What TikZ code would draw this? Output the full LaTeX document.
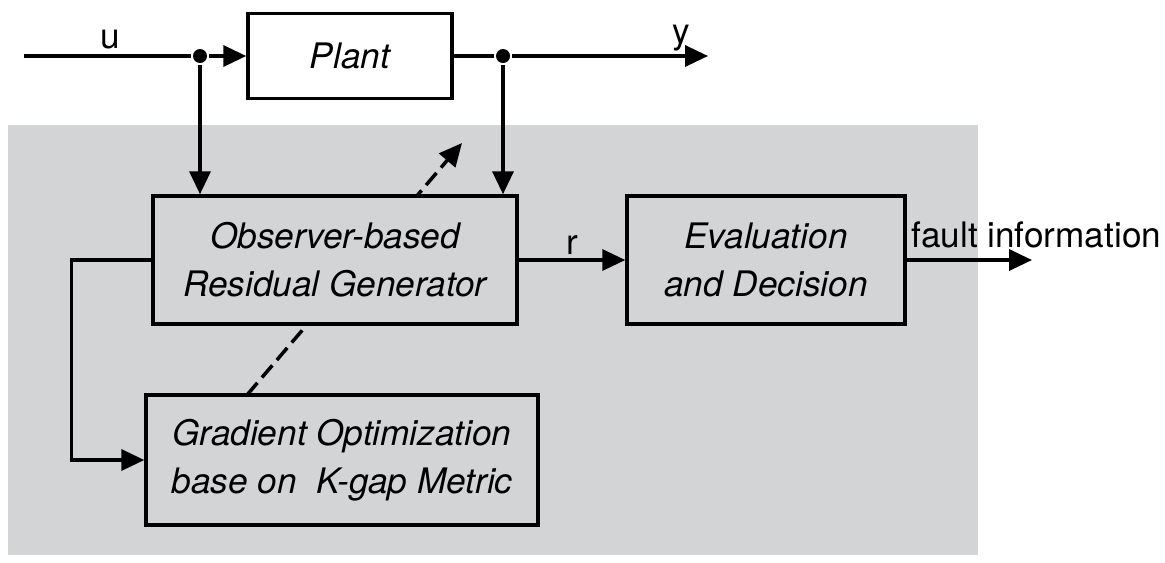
\documentclass[tikz,border=0pt]{standalone}
\usepackage{fontspec}
\setmainfont{TeX Gyre Heros}
\usetikzlibrary{arrows.meta}
\definecolor{panelgray}{RGB}{211,212,214}
\begin{document}
\begin{tikzpicture}[x=0.02cm,y=-0.02cm,line width=2pt,font=\fontsize{20}{27.5}\selectfont,
		blk/.style={draw,line width=2pt,align=center,inner sep=0pt,font=\fontsize{20}{27.5}\selectfont\itshape},
		sig/.style={-{Triangle[length=0.46cm,width=0.42cm]}},
		dot/.style={circle,fill=black,inner sep=0pt,minimum size=0.28cm}]
			\useasboundingbox (0,0) rectangle (1165,562);
			\fill[panelgray] (8,125) rectangle (978,555);
			% tuning arrow, runs behind the generator box
			\coordinate (tunefrom) at (247,395);
			\coordinate (tuneto) at (462,143);
			\draw[sig,dash pattern=on 0.32cm off 0.14cm] (tunefrom) -- (tuneto);
			\node[blk,minimum width=4.08cm,minimum height=1.7cm] (plant) at (350,56) {Plant};
			\node[blk,fill=panelgray,minimum width=7.28cm,minimum height=2.56cm] (obs) at (335,260) {Observer-based\\Residual Generator};
			\node[blk,fill=panelgray,minimum width=5.56cm,minimum height=2.56cm] (eval) at (766,260) {Evaluation\\and Decision};
			\node[blk,fill=panelgray,minimum width=7.84cm,minimum height=2.6cm] (grad) at (342,460) {Gradient Optimization\\base on\ \ K-gap Metric};
			\node[dot] (ju) at (200,56) {};
			\node[dot] (jy) at (503,56) {};
			\coordinate (uin) at (24,56);
			\coordinate (yout) at (708,56);
			\coordinate (fout) at (1032,260);
			\draw (uin) -- (ju);
			\draw[sig] (ju) -- (plant);
			\draw (plant) -- (jy);
			\draw[sig] (jy) -- (yout);
			\draw[sig] (ju) -- (ju |- obs.north);
			\draw[sig] (jy) -- (jy |- obs.north);
			\draw[sig] (obs) -- (eval);
			\draw[sig] (eval) -- (fout);
			\draw[sig] (obs.west) -- ++(-80,0) |- (grad.west);
			\node (ulbl) at (110,40) {u};
			\node (ylbl) at (681,38) {y};
			\node (rlbl) at (572,245) {r};
			\node[anchor=west,inner sep=0pt] (flbl) at (910,235) {fault information};
\end{tikzpicture}
\end{document}
